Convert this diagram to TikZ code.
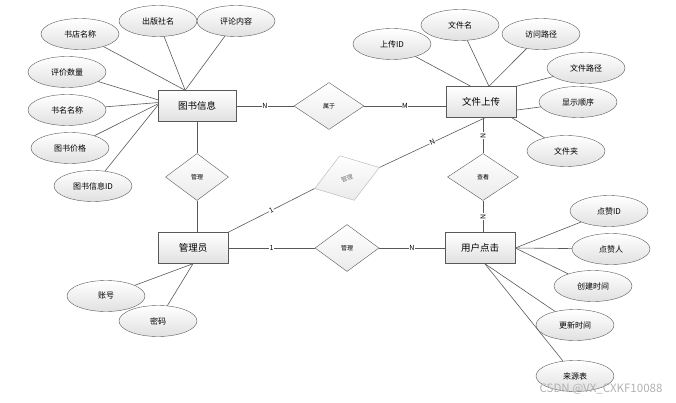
\documentclass[tikz,border=0pt]{standalone}
\usepackage{fontspec}
\setmainfont{Noto Sans CJK SC}
\usetikzlibrary{shapes.geometric}

\begin{document}
\begin{tikzpicture}[x=1pt, y=-1pt,
  attr/.style = {draw=black!65, ellipse, top color=white, bottom color=black!12, minimum width=78pt, minimum height=31pt, inner sep=0pt, font=\fontsize{8}{8}\selectfont},
  entity/.style = {draw=black!65, rectangle, top color=white, bottom color=black!12, minimum width=70pt, minimum height=31pt, font=\fontsize{9.5}{10}\selectfont},
  rel/.style = {draw=black!65, diamond, top color=white, bottom color=black!8, minimum width=68pt, minimum height=47pt, inner sep=0pt, font=\fontsize{6}{6}\selectfont},
  card/.style = {fill=white, inner sep=0.5pt, font=\fontsize{7}{7}\selectfont},
  link/.style = {draw=black!65, line width=0.6pt}]
        \useasboundingbox (0,0) rectangle (676,403);
        \node[entity, minimum width=78pt] (book) at (197,106) {图书信息};
        \node[entity] (upload) at (481,102) {文件上传};
        \node[entity] (admin) at (193,248) {管理员};
        \node[entity] (click) at (480,248) {用户点击};
        \node[rel, minimum width=70pt] (belong) at (329,106) {属于};
        \node[rel, minimum width=63pt] (manage) at (197,177) {管理};
        \node[rel, minimum width=71pt] (view) at (483,177) {查看};
        \node[rel, minimum width=64pt] (handle) at (347,248) {管理};
        \node[rel, rotate=18, draw=black!30, text=black!55] (tilt) at (347,178) {管理};
        \node[attr] (shop) at (80,34) {书店名称};
        \node[attr] (press) at (158,21) {出版社名};
        \node[attr] (comment) at (236,21) {评论内容};
        \node[attr] (rating) at (67,72) {评价数量};
        \node[attr] (title) at (67,110) {书名名称};
        \node[attr] (price) at (70,148) {图书价格};
        \node[attr] (bookid) at (93,186) {图书信息ID};
        \node[attr] (upid) at (392,44) {上传ID};
        \node[attr] (fname) at (460,25) {文件名};
        \node[attr] (url) at (541,34) {访问路径};
        \node[attr] (fpath) at (586,68) {文件路径};
        \node[attr] (order) at (578,102) {显示顺序};
        \node[attr] (folder) at (566,151) {文件夹};
        \node[attr] (account) at (106,296) {账号};
        \node[attr] (pwd) at (158,321) {密码};
        \node[attr] (likeid) at (609,211) {点赞ID};
        \node[attr] (liker) at (611,249) {点赞人};
        \node[attr] (ctime) at (593,286) {创建时间};
        \node[attr] (utime) at (575,325) {更新时间};
        \node[attr] (source) at (575,376) {来源表};
        \node[text=black!30, font=\fontsize{11.5}{12}\selectfont] (wm) at (601,389) {CSDN @VX\_CXKF10088};
        \draw[link] (shop) -- (book.127);
        \draw[link] (press) -- (book.127);
        \draw[link] (comment) -- (book.127);
        \draw[link] (rating) -- (book.171);
        \draw[link] (title) -- (book.175);
        \draw[link] (price) -- (book.177);
        \draw[link] (bookid) -- (book.179);
        \draw[link] (upid) -- (upload.123);
        \draw[link] (fname) -- (upload.63);
        \draw[link] (url) -- (upload.63);
        \draw[link] (fpath) -- (upload.north east);
        \draw[link] (order) -- (upload.-13);
        \draw[link] (folder) -- (upload.-27);
        \draw[link] (account) -- (admin.south);
        \draw[link] (pwd) -- (admin.south);
        \draw[link] (likeid) -- (click.east);
        \draw[link] (liker) -- (click.east);
        \draw[link] (ctime) -- (click.east);
        \draw[link] (utime) -- (click.-73);
        \draw[link] (source) -- (click.-73);
        \draw[link] (book) -- node[card] {N} (belong);
        \draw[link] (belong) -- node[card] {M} (belong -| upload.west);
        \draw[link] (book) -- (manage);
        \draw[link] (manage) -- (manage |- admin.north);
        \draw[link] (admin) -- node[card] {1} (handle);
        \draw[link] (handle) -- node[card] {N} (click);
        \draw[link] (view |- click.north) -- node[card, rotate=90] {N} (view);
        \draw[link] (view) -- node[card, rotate=90] {N} (view |- upload.south);
        \draw[link] (admin.north east) -- node[card, sloped] {1} (tilt.west);
        \draw[link] (tilt.east) -- node[card, sloped] {N} (upload.-75);
\end{tikzpicture}
\end{document}
